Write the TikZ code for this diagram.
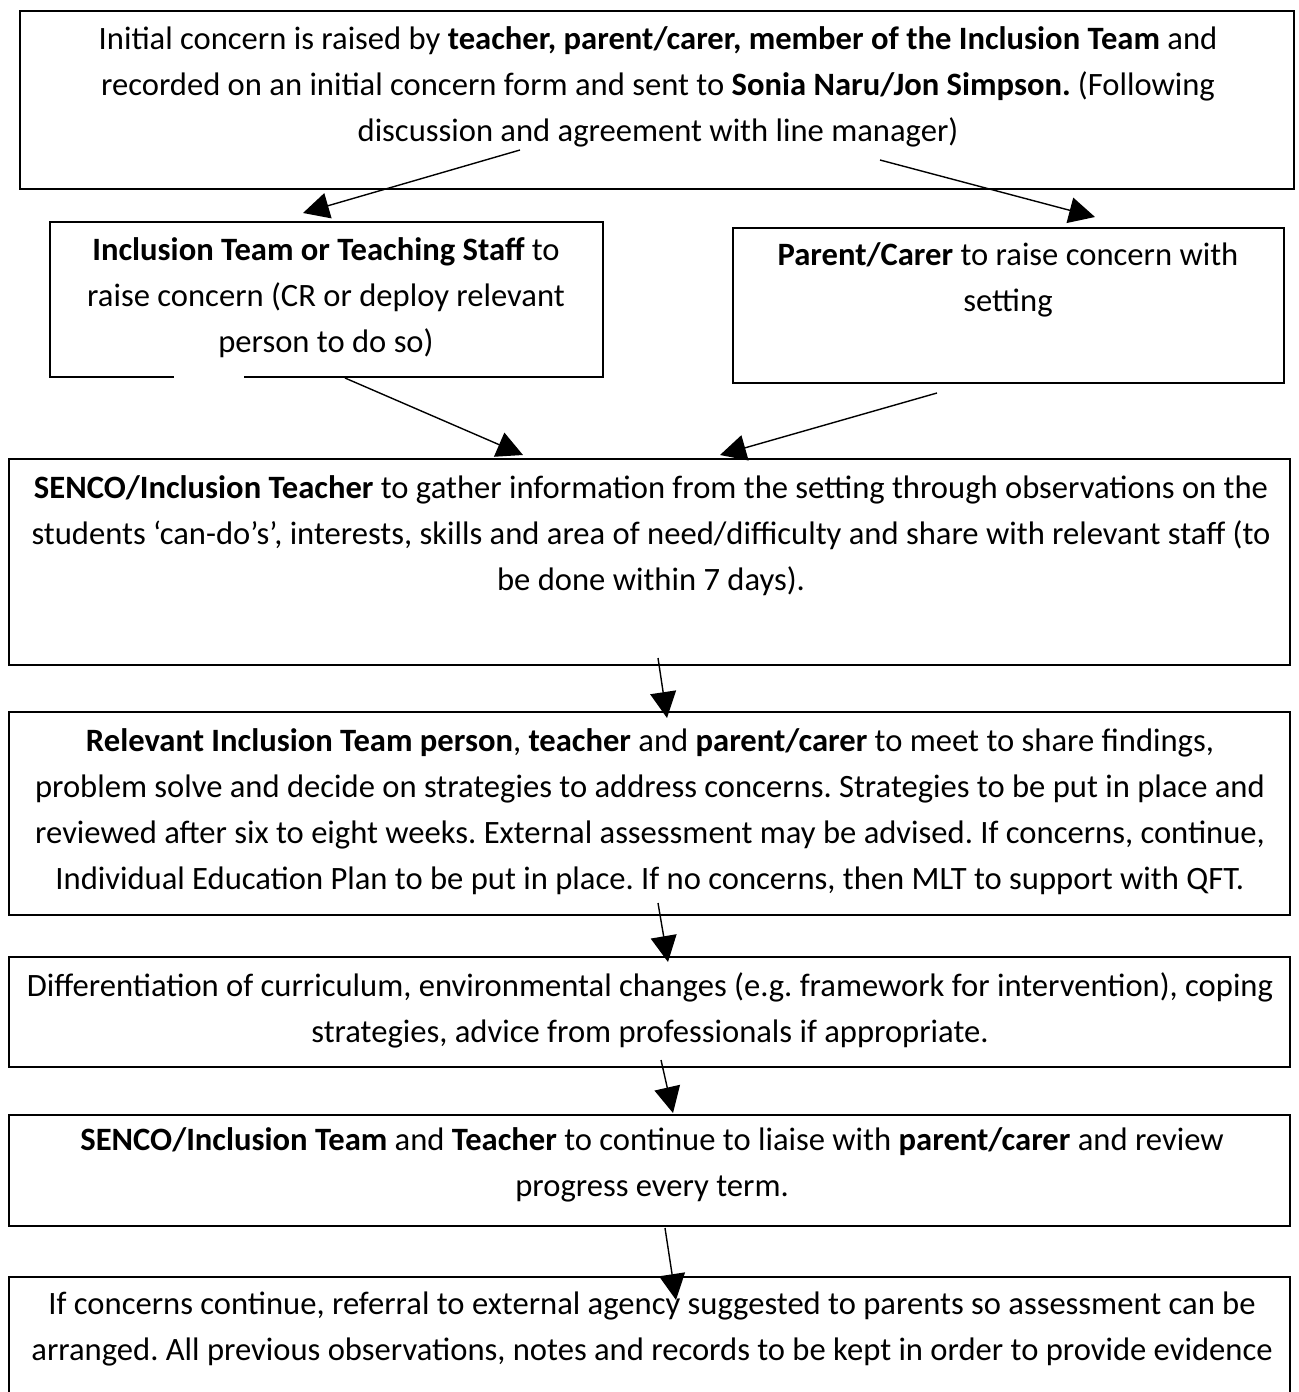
\documentclass[tikz,border=0pt]{standalone}
\usepackage{fontspec}
\setmainfont{Carlito}
\usetikzlibrary{arrows.meta}
\frenchspacing
\begin{document}
\begin{tikzpicture}[x=0.5pt,y=-0.5pt,
  box/.style={draw=black, line width=1.4pt, inner sep=0pt},
  txt/.style={align=center, inner sep=0pt, font=\fontsize{16.3}{23}\selectfont},
  arr/.style={line width=0.7pt, -{Triangle[length=13pt,width=13pt]}}]
\useasboundingbox (0,0) rectangle (1299,1392);
\clip (0,0) rectangle (1299,1392);
\fill[white] (0,0) rectangle (1299,1392);

% boxes
\node[box, minimum width=637pt,   minimum height=89pt]   (b1) at (657,100)    {};
\node[box, minimum width=276.5pt, minimum height=77.5pt] (b2) at (326.5,299.5) {};
\node[box, minimum width=275.5pt, minimum height=77.5pt] (b3) at (1008.5,305.5) {};
\node[box, minimum width=640.5pt, minimum height=103pt]  (b4) at (649.5,562)  {};
\node[box, minimum width=640.5pt, minimum height=101.5pt] (b5) at (649.5,813.5) {};
\node[box, minimum width=640.5pt, minimum height=55pt]   (b6) at (649.5,1012) {};
\node[box, minimum width=640.5pt, minimum height=55.5pt] (b7) at (649.5,1170.5) {};
\node[box, minimum width=640.5pt, minimum height=71.5pt] (b8) at (649.5,1348.5) {};

% gap in the bottom border of the left box
\draw[white, line width=3pt] (174,377) -- (244,377);

% texts
\node[txt] (t1) at (658,87) {Initial concern is raised by \textbf{teacher, parent/carer, member of the Inclusion Team} and\\
recorded on an initial concern form and sent to \textbf{Sonia Naru/Jon Simpson.} (Following\\
discussion and agreement with line manager)};
\node[txt] (t2) at (326,298) {\textbf{Inclusion Team or Teaching Staff} to\\
raise concern (CR or deploy relevant\\
person to do so)};
\node[txt] (t3) at (1008,280) {\textbf{Parent/Carer} to raise concern with\\
setting};
\node[txt] (t4) at (651,536) {\textbf{SENCO/Inclusion Teacher} to gather information from the setting through observations on the\\
students ‘can-do’s’, interests, skills and area of need/difficulty and share with relevant staff (to\\
be done within 7 days).};
\node[txt] (t5) at (650,812) {\textbf{Relevant Inclusion Team person}, \textbf{teacher} and \textbf{parent/carer} to meet to share findings,\\
problem solve and decide on strategies to address concerns. Strategies to be put in place and\\
reviewed after six to eight weeks. External assessment may be advised. If concerns, continue,\\
Individual Education Plan to be put in place. If no concerns, then MLT to support with QFT.};
\node[txt] (t6) at (650,1010) {Differentiation of curriculum, environmental changes (e.g. framework for intervention), coping\\
strategies, advice from professionals if appropriate.};
\node[txt] (t7) at (652,1165) {\textbf{SENCO/Inclusion Team} and \textbf{Teacher} to continue to liaise with \textbf{parent/carer} and review\\
progress every term.};
\node[txt] (t8) at (652,1329) {If concerns continue, referral to external agency suggested to parents so assessment can be\\
arranged. All previous observations, notes and records to be kept in order to provide evidence};

% connector ends
\coordinate (a1s) at (520,150);  \coordinate (a1e) at (303,213);
\coordinate (a2s) at (880,160);  \coordinate (a2e) at (1095,217);
\coordinate (a3s) at (345,378);  \coordinate (a3e) at (523,455);
\coordinate (a4s) at (937,393);  \coordinate (a4e) at (720,455);
\coordinate (a5s) at (658,658);  \coordinate (a5e) at (667,718);
\coordinate (a6s) at (658,903);  \coordinate (a6e) at (668,962);
\coordinate (a7s) at (661,1060); \coordinate (a7e) at (673,1113);
\coordinate (a8s) at (665,1228); \coordinate (a8e) at (676,1300);

\draw[arr] (a1s) -- (a1e);
\draw[arr] (a2s) -- (a2e);
\draw[arr] (a3s) -- (a3e);
\draw[arr] (a4s) -- (a4e);
\draw[arr] (a5s) -- (a5e);
\draw[arr] (a6s) -- (a6e);
\draw[arr] (a7s) -- (a7e);
\draw[arr] (a8s) -- (a8e);
\end{tikzpicture}
\end{document}
